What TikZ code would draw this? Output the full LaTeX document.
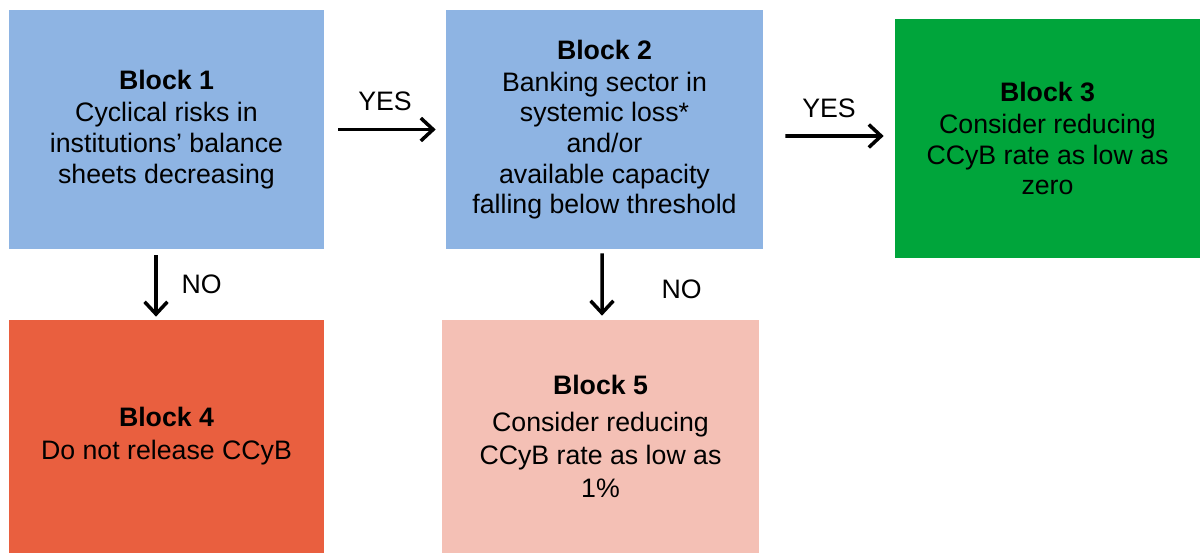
\documentclass[tikz,border=0pt]{standalone}
\usepackage{fontspec}
\setmainfont{Liberation Sans}
\usetikzlibrary{calc,arrows.meta}
\definecolor{blockblue}{HTML}{8EB4E3}
\definecolor{blockgreen}{HTML}{00A53B}
\definecolor{blockred}{HTML}{E95F3F}
\definecolor{blockpink}{HTML}{F4C0B5}

\begin{document}
\begin{tikzpicture}[x=0.02cm,y=-0.02cm,
    block/.style={rectangle, align=center, inner sep=0pt,
            font=\fontsize{15.2}{17.4}\selectfont},
    lowblock/.style={block, font=\fontsize{15.2}{18.7}\selectfont},
    flow/.style={-{Straight Barb[length=7pt,width=13pt]}, line width=2pt},
    lbl/.style={font=\fontsize{15.2}{17.4}\selectfont}]

  \useasboundingbox (0,0) rectangle (1200,553);

  \node[block,fill=blockblue,minimum width=6.3cm,minimum height=4.78cm] (b1) at (166.5,129.5)
    {\textbf{Block 1}\\[1pt]Cyclical risks in\\institutions’ balance\\sheets decreasing};
  \node[block,fill=blockblue,minimum width=6.34cm,minimum height=4.78cm] (b2) at (604.5,129.5)
    {\textbf{Block 2}\\[1pt]Banking sector in\\systemic loss*\\and/or\\available capacity\\falling below threshold};
  \node[block,fill=blockgreen,minimum width=6.1cm,minimum height=4.78cm] (b3) at (1047.5,138.5)
    {\textbf{Block 3}\\[1pt]Consider reducing\\CCyB rate as low as\\zero};
  \node[lowblock,fill=blockred,minimum width=6.3cm,minimum height=4.66cm] (b4) at (166.5,436.5)
    {\textbf{Block 4}\\Do not release CCyB};
  \node[lowblock,fill=blockpink,minimum width=6.34cm,minimum height=4.66cm] (b5) at (600.5,436.5)
    {\textbf{Block 5}\\[2.3pt]Consider reducing\\CCyB rate as low as\\1\%};

  % yes branches
  \draw[flow,shorten <=0.28cm,shorten >=0.2cm] (b1.east) -- (b2.west)
    node[lbl,midway,above=0.22cm] (yes1) {YES};
  \draw[flow,shorten <=0.44cm,shorten >=0.22cm] ($(b2.east)+(0,6.5)$) -- ($(b3.west)+(0,-2.5)$)
    node[lbl,midway,above=0.22cm] (yes2) {YES};

  % no branches
  \draw[flow,shorten <=0.12cm,shorten >=0.06cm] ($(b1.south)+(-10.5,0)$) -- ($(b4.north)+(-10.5,0)$)
    node[lbl,midway,right=0.36cm] (no1) {NO};
  \draw[flow,shorten <=0.08cm,shorten >=0.08cm] ($(b2.south)+(-2.5,0)$) -- ($(b5.north)+(1.5,0)$)
    node[lbl,midway,right=1.04cm,yshift=-0.1cm] (no2) {NO};
\end{tikzpicture}
\end{document}
